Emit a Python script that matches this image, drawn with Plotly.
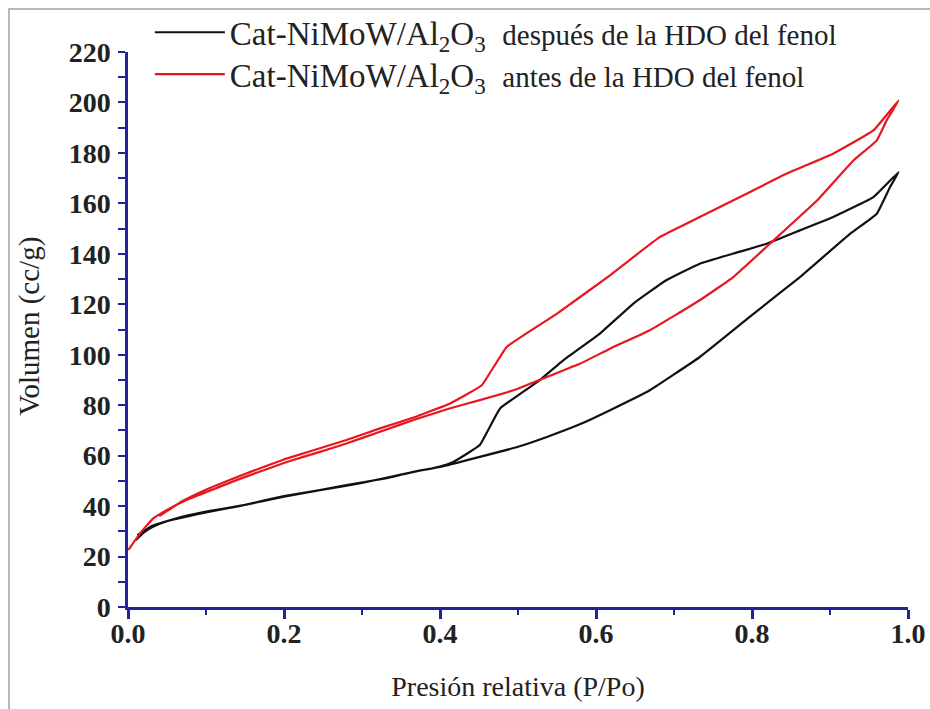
import plotly.graph_objects as go

# ---- data ----
# Cat-NiMoW/Al2O3 después de la HDO del fenol (black): adsorption then desorption
despues_ads_x = [0.010, 0.020, 0.032, 0.050, 0.075, 0.100, 0.139, 0.200, 0.246, 0.280, 0.330, 0.366,
                 0.400, 0.451, 0.500, 0.537, 0.580, 0.618, 0.669, 0.733, 0.797, 0.8615, 0.926, 0.960,
                 0.977, 0.988]
despues_ads_y = [26.5, 29.5, 31.8, 34.0, 35.8, 37.5, 39.8, 43.7, 46.3, 48.3, 51.0, 53.6,
                 55.5, 59.5, 63.5, 67.4, 72.5, 78.0, 85.9, 99.1, 115.0, 130.8, 148.0, 155.9,
                 166.5, 172.4]
despues_des_x = [0.9556, 0.904, 0.8615, 0.819, 0.776, 0.733, 0.690, 0.648, 0.605, 0.558, 0.528, 0.477,
                 0.451, 0.417, 0.400, 0.350, 0.300, 0.250, 0.200, 0.150, 0.100, 0.060, 0.030, 0.012]
despues_des_y = [162.5, 154.6, 149.3, 144.0, 140.1, 136.1, 129.5, 120.3, 108.4, 97.8, 89.9, 78.7,
                 64.2, 57.5, 55.7, 52.5, 49.2, 46.5, 44.0, 40.5, 37.8, 35.0, 32.0, 28.5]

# Cat-NiMoW/Al2O3 antes de la HDO del fenol (red): adsorption then desorption
antes_ads_x = [0.0005, 0.0154, 0.032, 0.050, 0.075, 0.100, 0.139, 0.2035, 0.246, 0.280, 0.323, 0.366,
               0.410, 0.451, 0.500, 0.537, 0.580, 0.618, 0.669, 0.733, 0.776, 0.823, 0.883, 0.930,
               0.960, 0.9726, 0.988]
antes_ads_y = [22.6, 29.2, 35.0, 38.5, 42.4, 45.5, 50.3, 57.5, 61.5, 64.8, 69.5, 74.1,
               78.5, 82.0, 86.5, 91.2, 96.5, 102.4, 109.7, 121.6, 130.8, 144.0, 161.0, 177.0,
               185.0, 192.9, 200.8]
antes_des_x = [0.9556, 0.904, 0.8445, 0.7846, 0.733, 0.682, 0.618, 0.550, 0.4855, 0.4535, 0.4128,
               0.370, 0.323, 0.280, 0.200, 0.140, 0.100, 0.070, 0.040]
antes_des_y = [188.9, 179.7, 171.8, 162.5, 154.6, 146.7, 131.5, 116.3, 103.1, 87.9, 80.7,
               75.5, 70.8, 66.2, 58.5, 51.5, 46.5, 42.0, 36.0]

x_ticks = [0.0, 0.2, 0.4, 0.6, 0.8, 1.0]
x_ticklabels = ["0.0", "0.2", "0.4", "0.6", "0.8", "1.0"]
y_ticks = list(range(0, 221, 20))

name_despues = ("Cat-NiMoW/Al<sub>2</sub>O<sub>3</sub>&nbsp; "
                "<span style='font-size:29px'>después de la HDO del fenol</span>")
name_antes = ("Cat-NiMoW/Al<sub>2</sub>O<sub>3</sub>&nbsp; "
              "<span style='font-size:29px'>antes de la HDO del fenol</span>")

AXIS = "#22229a"
SERIF = "Liberation Serif"
TXT = "#222222"

fig = go.Figure()
fig.add_trace(go.Scatter(x=despues_ads_x + despues_des_x, y=despues_ads_y + despues_des_y,
                         mode="lines", name=name_despues, legend="legend",
                         line=dict(color="#111111", width=2.2, shape="spline", smoothing=0.3)))
fig.add_trace(go.Scatter(x=antes_ads_x + antes_des_x, y=antes_ads_y + antes_des_y,
                         mode="lines", name=name_antes, legend="legend2",
                         line=dict(color="#e8161e", width=2.2, shape="spline", smoothing=0.3)))

leg_common = dict(xanchor="left", yanchor="middle", bgcolor="rgba(0,0,0,0)",
                  font=dict(family=SERIF, size=33, color=TXT), itemwidth=70)

fig.update_layout(
    width=930, height=709,
    margin=dict(l=128, r=22, t=52, b=102, autoexpand=False),
    paper_bgcolor="white", plot_bgcolor="white",
    font=dict(family=SERIF, color=TXT),
    showlegend=True,
    legend=dict(x=0.028, y=1.0355, **leg_common),
    legend2=dict(x=0.028, y=0.960, **leg_common),
    xaxis=dict(range=[0, 1], showgrid=False, zeroline=False,
               showline=True, linecolor=AXIS, linewidth=2.5,
               tickmode="array", tickvals=x_ticks, ticktext=x_ticklabels,
               ticks="outside", ticklen=9, tickwidth=2.5, tickcolor=AXIS,
               minor=dict(dtick=0.1, tick0=0, ticks="outside", ticklen=5, tickwidth=2, tickcolor=AXIS),
               tickfont=dict(family=SERIF, size=28, color=TXT, weight="bold"),
               ticklabelstandoff=-9,
               title=dict(text="Presión relativa (P/Po)", standoff=29,
                          font=dict(family=SERIF, size=28, color=TXT))),
    yaxis=dict(range=[0, 220], showgrid=False, zeroline=False,
               showline=True, linecolor=AXIS, linewidth=2.5,
               tickmode="array", tickvals=y_ticks,
               ticks="",
               minor=dict(dtick=10, tick0=0, ticks="outside", ticklen=7, tickwidth=2, tickcolor=AXIS),
               tickfont=dict(family=SERIF, size=28, color=TXT, weight="bold"),
               ticklabelstandoff=9),
    annotations=[dict(text="Volumen (cc/g)", xref="paper", yref="paper", x=-0.1256, y=0.505,
                      xanchor="center", yanchor="middle", textangle=-90, showarrow=False,
                      font=dict(family=SERIF, size=29, color=TXT))],
    shapes=[dict(type="rect", xref="paper", yref="paper", x0=-0.1526, y0=-0.3, x1=1.2, y1=1.0775,
                 line=dict(color="#9aa3ae", width=1.5), fillcolor="rgba(0,0,0,0)", layer="below")],
)

fig.write_html("out.html")
